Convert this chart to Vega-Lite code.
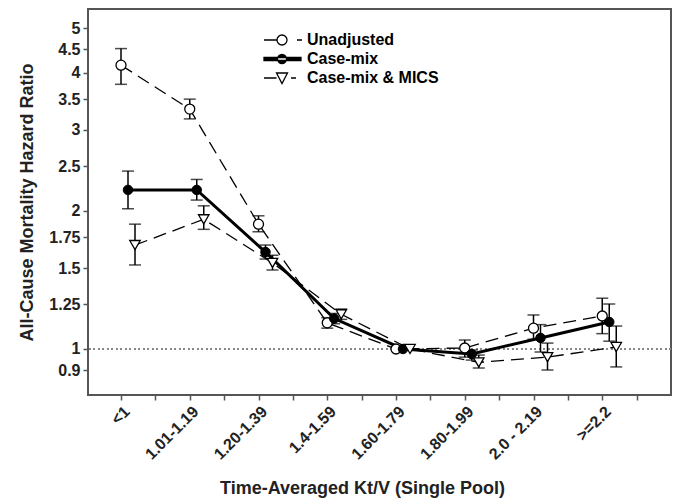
{
  "$schema": "https://vega.github.io/schema/vega-lite/v6.json",
  "width": 583,
  "height": 386,
  "autosize": "none",
  "padding": {"left": 88, "top": 9, "right": 8, "bottom": 105},
  "background": "white",
  "config": {
    "view": {"stroke": "#555", "strokeWidth": 2},
    "font": "Liberation Sans"
  },
  "data": {
    "values": [
      {"s": "Unadjusted", "k": 1, "hr": 4.15, "lo": 3.77, "hi": 4.51},
      {"s": "Unadjusted", "k": 2, "hr": 3.33, "lo": 3.17, "hi": 3.5},
      {"s": "Unadjusted", "k": 3, "hr": 1.87, "lo": 1.8, "hi": 1.95},
      {"s": "Unadjusted", "k": 4, "hr": 1.14, "lo": 1.11, "hi": 1.17},
      {"s": "Unadjusted", "k": 5, "hr": 1.0, "lo": null, "hi": null},
      {"s": "Unadjusted", "k": 6, "hr": 1.005, "lo": 0.96, "hi": 1.046},
      {"s": "Unadjusted", "k": 7, "hr": 1.11, "lo": 1.05, "hi": 1.186},
      {"s": "Unadjusted", "k": 8, "hr": 1.18, "lo": 1.08, "hi": 1.29},
      {"s": "Case-mix", "k": 1, "hr": 2.22, "lo": 2.02, "hi": 2.44},
      {"s": "Case-mix", "k": 2, "hr": 2.22, "lo": 2.11, "hi": 2.34},
      {"s": "Case-mix", "k": 3, "hr": 1.626, "lo": 1.57, "hi": 1.684},
      {"s": "Case-mix", "k": 4, "hr": 1.165, "lo": 1.135, "hi": 1.195},
      {"s": "Case-mix", "k": 5, "hr": 1.0, "lo": null, "hi": null},
      {"s": "Case-mix", "k": 6, "hr": 0.975, "lo": 0.946, "hi": 0.995},
      {"s": "Case-mix", "k": 7, "hr": 1.057, "lo": 0.985, "hi": 1.13},
      {"s": "Case-mix", "k": 8, "hr": 1.145, "lo": 1.04, "hi": 1.253},
      {"s": "Case-mix & MICS", "k": 1, "hr": 1.684, "lo": 1.524, "hi": 1.87},
      {"s": "Case-mix & MICS", "k": 2, "hr": 1.916, "lo": 1.822, "hi": 2.05},
      {"s": "Case-mix & MICS", "k": 3, "hr": 1.54, "lo": 1.486, "hi": 1.6},
      {"s": "Case-mix & MICS", "k": 4, "hr": 1.19, "lo": 1.16, "hi": 1.222},
      {"s": "Case-mix & MICS", "k": 5, "hr": 1.0, "lo": null, "hi": null},
      {"s": "Case-mix & MICS", "k": 6, "hr": 0.935, "lo": 0.909, "hi": 0.97},
      {"s": "Case-mix & MICS", "k": 7, "hr": 0.96, "lo": 0.9, "hi": 1.03},
      {"s": "Case-mix & MICS", "k": 8, "hr": 1.01, "lo": 0.914, "hi": 1.122}
    ]
  },
  "encoding": {
    "x": {
      "field": "k", "type": "quantitative",
      "scale": {"domain": [0.52, 9], "nice": false, "zero": false},
      "axis": {
        "values": [1, 1.5, 2, 2.5, 3, 3.5, 4, 4.5, 5, 5.5, 6, 6.5, 7, 7.5, 8, 8.5],
        "labelExpr": "datum.value % 1 === 0 ? ['<1','1.01-1.19','1.20-1.39','1.4-1.59','1.60-1.79','1.80-1.99','2.0 - 2.19','>=2.2'][datum.value - 1] : ''",
        "domain": false, "grid": false,
        "tickSize": 5, "tickColor": "#555", "tickWidth": 1.5,
        "labelAngle": -45, "labelAlign": "right", "labelBaseline": "top",
        "labelFontSize": 16, "labelFontWeight": "bold", "labelColor": "#222",
        "labelPadding": 3, "labelOverlap": false, "labelFlush": false, "labelBound": false,
        "title": "Time-Averaged Kt/V (Single Pool)",
        "titleFontSize": 18, "titleFontWeight": "bold", "titleColor": "#222",
        "titleX": 274, "titleY": 93, "titleBaseline": "middle", "titleAlign": "center"
      }
    },
    "y": {
      "field": "hr", "type": "quantitative",
      "scale": {"type": "log", "domain": [0.794, 5.5], "nice": false, "zero": false},
      "axis": {
        "values": [0.9, 1, 1.25, 1.5, 1.75, 2, 2.5, 3, 3.5, 4, 4.5, 5],
        "format": "~g",
        "domain": false, "grid": false,
        "tickSize": 5, "tickColor": "#555", "tickWidth": 1.5,
        "labelFontSize": 16, "labelFontWeight": "bold", "labelColor": "#222",
        "labelPadding": 3, "labelOverlap": false, "labelFlush": false,
        "title": "All-Cause Mortality Hazard Ratio",
        "titleFontSize": 18, "titleFontWeight": "bold", "titleColor": "#222",
        "titleX": -61, "titleY": 193, "titleBaseline": "middle", "titleAlign": "center", "titleAngle": -90
      }
    }
  },
  "layer": [
    {
      "mark": {"type": "rule", "stroke": "#888", "strokeWidth": 1.2, "strokeDash": [1.5, 3]},
      "encoding": {"y": {"datum": 1}, "x": null}
    },
    {
      "transform": [{"filter": "datum.s === 'Unadjusted'"}],
      "mark": {"type": "line", "stroke": "black", "strokeWidth": 1.3, "strokeDash": [13, 7], "xOffset": 0}
    },
    {
      "transform": [{"filter": "datum.s === 'Case-mix & MICS'"}],
      "mark": {"type": "line", "stroke": "black", "strokeWidth": 1.3, "strokeDash": [13, 7], "xOffset": 14}
    },
    {
      "transform": [{"filter": "datum.s === 'Case-mix'"}],
      "mark": {"type": "line", "stroke": "black", "strokeWidth": 3, "xOffset": 7}
    },
    {
      "transform": [{"filter": "datum.s === 'Unadjusted' && isValid(datum.lo)"}],
      "layer": [
        {"mark": {"type": "rule", "stroke": "black", "strokeWidth": 1.5, "xOffset": 0}, "encoding": {"y": {"field": "lo", "type": "quantitative"}, "y2": {"field": "hi"}}},
        {"mark": {"type": "tick", "orient": "horizontal", "color": "black", "size": 12, "thickness": 1.5, "xOffset": 0}, "encoding": {"y": {"field": "lo", "type": "quantitative"}}},
        {"mark": {"type": "tick", "orient": "horizontal", "color": "black", "size": 12, "thickness": 1.5, "xOffset": 0}, "encoding": {"y": {"field": "hi", "type": "quantitative"}}}
      ]
    },
    {
      "transform": [{"filter": "datum.s === 'Case-mix' && isValid(datum.lo)"}],
      "layer": [
        {"mark": {"type": "rule", "stroke": "black", "strokeWidth": 1.5, "xOffset": 7}, "encoding": {"y": {"field": "lo", "type": "quantitative"}, "y2": {"field": "hi"}}},
        {"mark": {"type": "tick", "orient": "horizontal", "color": "black", "size": 12, "thickness": 1.5, "xOffset": 7}, "encoding": {"y": {"field": "lo", "type": "quantitative"}}},
        {"mark": {"type": "tick", "orient": "horizontal", "color": "black", "size": 12, "thickness": 1.5, "xOffset": 7}, "encoding": {"y": {"field": "hi", "type": "quantitative"}}}
      ]
    },
    {
      "transform": [{"filter": "datum.s === 'Case-mix & MICS' && isValid(datum.lo)"}],
      "layer": [
        {"mark": {"type": "rule", "stroke": "black", "strokeWidth": 1.5, "xOffset": 14}, "encoding": {"y": {"field": "lo", "type": "quantitative"}, "y2": {"field": "hi"}}},
        {"mark": {"type": "tick", "orient": "horizontal", "color": "black", "size": 12, "thickness": 1.5, "xOffset": 14}, "encoding": {"y": {"field": "lo", "type": "quantitative"}}},
        {"mark": {"type": "tick", "orient": "horizontal", "color": "black", "size": 12, "thickness": 1.5, "xOffset": 14}, "encoding": {"y": {"field": "hi", "type": "quantitative"}}}
      ]
    },
    {
      "transform": [{"filter": "datum.s === 'Unadjusted'"}],
      "mark": {"type": "point", "shape": "circle", "filled": false, "fill": "white", "stroke": "black", "strokeWidth": 1.3, "size": 100, "opacity": 1, "xOffset": 0}
    },
    {
      "transform": [{"filter": "datum.s === 'Case-mix'"}],
      "mark": {"type": "point", "shape": "circle", "filled": true, "fill": "black", "stroke": "black", "strokeWidth": 1, "size": 90, "opacity": 1, "xOffset": 7}
    },
    {
      "transform": [{"filter": "datum.s === 'Case-mix & MICS'"}],
      "mark": {"type": "point", "shape": "triangle-down", "filled": false, "fill": "white", "stroke": "black", "strokeWidth": 1.3, "size": 110, "opacity": 1, "xOffset": 14}
    },
    {
      "transform": [{"filter": "false"}],
      "mark": {"type": "point", "filled": true, "opacity": 1},
      "encoding": {
        "shape": {
          "field": "s", "type": "nominal",
          "scale": {
            "domain": ["Unadjusted", "Case-mix", "Case-mix & MICS"],
            "range": [
              "M-3.6,0L-1,0M3,0L4,0M-1,0A1,1 0 1,0 1,0A1,1 0 1,0 -1,0",
              "M-3.6,-0.3L3.8,-0.3L3.8,0.3L-3.6,0.3ZM-0.9,0A0.9,0.9 0 1,0 0.9,0A0.9,0.9 0 1,0 -0.9,0",
              "M-3.6,0L-1.1,0M1.8,0L2.8,0M-1.1,-1L1.1,-1L0,1.1Z"
            ]
          },
          "legend": {
            "title": null, "orient": "none", "legendX": 186, "legendY": 23,
            "padding": 0, "symbolSize": 100, "symbolStrokeWidth": 1.3,
            "labelFontSize": 16, "labelFontWeight": "bold", "labelColor": "black",
            "labelOffset": 17, "rowPadding": 3
          }
        },
        "fill": {
          "field": "s", "type": "nominal",
          "scale": {"domain": ["Unadjusted", "Case-mix", "Case-mix & MICS"], "range": ["white", "black", "white"]}
        },
        "stroke": {
          "field": "s", "type": "nominal",
          "scale": {"domain": ["Unadjusted", "Case-mix", "Case-mix & MICS"], "range": ["black", "black", "black"]}
        }
      }
    }
  ]
}
